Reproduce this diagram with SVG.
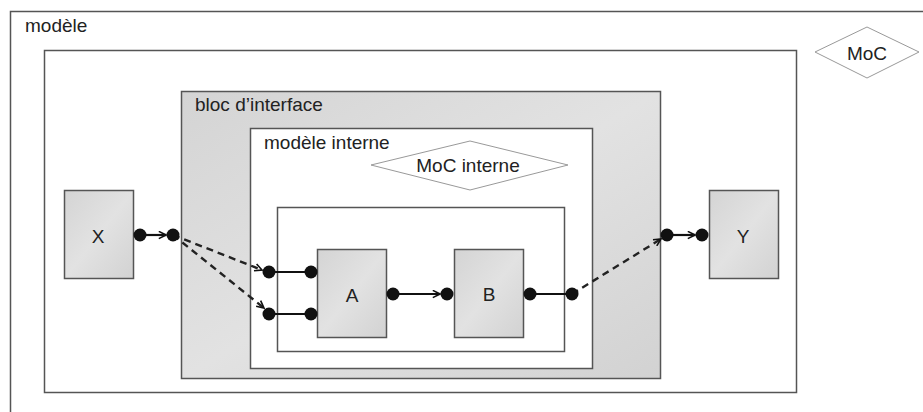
<svg xmlns="http://www.w3.org/2000/svg" width="923" height="412" viewBox="0 0 923 412">
<style>
.frame{fill:#ffffff;stroke:#555;stroke-width:1.5}
.gray{fill:url(#g);stroke:#555;stroke-width:1.5}
.moc{fill:#ffffff;stroke:#999;stroke-width:1}
.t{font-family:"Liberation Sans",Arial,sans-serif;font-size:19px;fill:#222}
.tc{font-family:"Liberation Sans",Arial,sans-serif;font-size:19px;fill:#222;text-anchor:middle}
.c{stroke:#111;stroke-width:2.2;fill:none}
.d{stroke:#222;stroke-width:2.4;fill:none;stroke-dasharray:7,5}
.dot{fill:#111}
</style>
<defs>
<linearGradient id="g" x1="0" y1="0" x2="1" y2="1">
<stop offset="0" stop-color="#d4d4d4"/>
<stop offset="0.5" stop-color="#e2e2e2"/>
<stop offset="1" stop-color="#d2d2d2"/>
</linearGradient>
<marker id="ah" viewBox="0 0 10 10" refX="9" refY="5" markerWidth="9" markerHeight="9" markerUnits="userSpaceOnUse" orient="auto">
<path d="M1,1 L9,5 L1,9" fill="none" stroke="#111" stroke-width="1.8"/>
</marker>
</defs>
<rect width="923" height="412" fill="#ffffff"/>
<g id="modele">
<rect class="frame" x="10.5" y="11.5" width="960" height="460"/>
<text class="t" x="25" y="32">modèle</text>
</g>
<g id="moc">
<polygon class="moc" points="815,52 867,27 919,52 867,78"/>
<text class="tc" x="867" y="60">MoC</text>
</g>
<g id="cadre">
<rect class="frame" x="44.5" y="50.5" width="752" height="342"/>
</g>
<g id="bloc-interface">
<rect class="gray" x="181.5" y="91.5" width="479" height="287"/>
<text class="t" x="195" y="111">bloc d’interface</text>
</g>
<g id="modele-interne">
<rect class="frame" x="250.5" y="128.5" width="342" height="240"/>
<text class="t" x="264" y="149">modèle interne</text>
</g>
<g id="moc-interne">
<polygon class="moc" points="371,165 470,141 568,165 470,190"/>
<text class="tc" x="468" y="172">MoC interne</text>
</g>
<g id="sous-modele">
<rect class="frame" x="277.5" y="207.5" width="287" height="144"/>
</g>
<g id="X">
<rect class="gray" x="64.5" y="190.5" width="69" height="88"/>
<text class="tc" x="98" y="243">X</text>
</g>
<g id="Y">
<rect class="gray" x="709.5" y="190.5" width="69" height="88"/>
<text class="tc" x="743" y="243">Y</text>
</g>
<g id="A">
<rect class="gray" x="317.5" y="249.5" width="69" height="88"/>
<text class="tc" x="352" y="302">A</text>
</g>
<g id="B">
<rect class="gray" x="454.5" y="249.5" width="69" height="88"/>
<text class="tc" x="489" y="301">B</text>
</g>
<g id="connectors">
<line class="c" x1="140" y1="235" x2="166" y2="235" marker-end="url(#ah)"/>
<path class="d" d="M173,235 L262,270" marker-end="url(#ah)"/>
<path class="d" d="M173,235 L264,308" marker-end="url(#ah)"/>
<line class="c" x1="269" y1="272" x2="311" y2="272"/>
<line class="c" x1="269" y1="314" x2="311" y2="314"/>
<line class="c" x1="393" y1="294" x2="440" y2="294" marker-end="url(#ah)"/>
<line class="c" x1="530" y1="294" x2="572" y2="294"/>
<path class="d" d="M572,294 L661,239" marker-end="url(#ah)"/>
<line class="c" x1="667" y1="235" x2="695" y2="235" marker-end="url(#ah)"/>
<circle class="dot" cx="140" cy="235" r="6.5"/>
<circle class="dot" cx="173" cy="235" r="6.5"/>
<circle class="dot" cx="269" cy="272" r="6.5"/>
<circle class="dot" cx="311" cy="272" r="6.5"/>
<circle class="dot" cx="269" cy="314" r="6.5"/>
<circle class="dot" cx="311" cy="314" r="6.5"/>
<circle class="dot" cx="393" cy="294" r="6.5"/>
<circle class="dot" cx="447" cy="294" r="6.5"/>
<circle class="dot" cx="530" cy="294" r="6.5"/>
<circle class="dot" cx="572" cy="294" r="6.5"/>
<circle class="dot" cx="667" cy="235" r="6.5"/>
<circle class="dot" cx="702" cy="235" r="6.5"/>
</g>
</svg>
